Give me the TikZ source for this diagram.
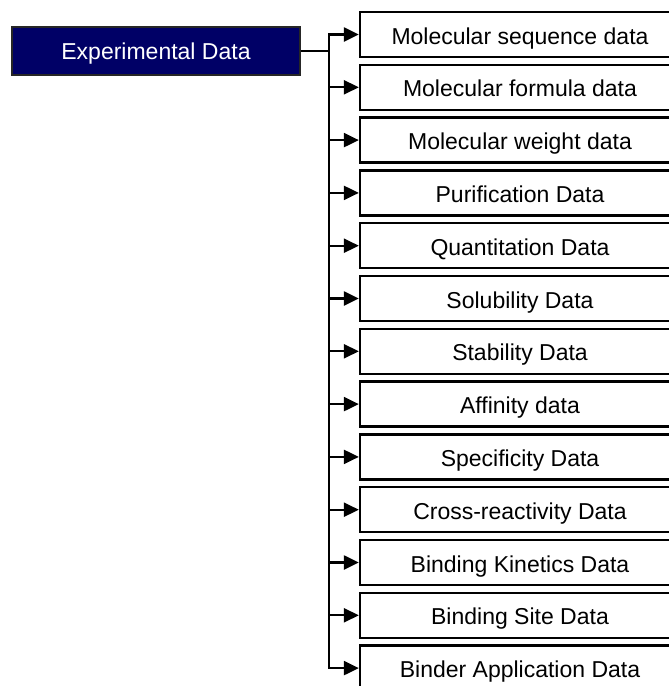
\documentclass[tikz,border=0pt]{standalone}
\usepackage{fontspec}
\setmainfont{Liberation Sans}
\usepackage{tikz}
\usetikzlibrary{positioning, arrows.meta, calc}

\definecolor{rootblue}{RGB}{0,0,102}

\begin{document}
\begin{tikzpicture}[x=1pt, y=-1pt,
        rootbox/.style={draw=black!85, line width=1.5pt, fill=rootblue, text=white,
            minimum width=288pt, minimum height=48pt, inner sep=0pt,
            text height=16.5pt, text depth=0pt, font=\fontsize{23}{27}\selectfont},
        databox/.style={draw=black, line width=2.3pt, fill=white,
            minimum width=320pt, minimum height=45pt, inner sep=0pt,
            text height=19pt, text depth=0pt, font=\fontsize{23}{27}\selectfont},
        branch/.style={line width=2.3pt, -{Triangle[length=15pt, width=14pt]}},
        trunk/.style={line width=2.5pt, line cap=rect}]
            \def\trunkx{329}
            \def\pitch{52.8}

            \useasboundingbox (0,0) rectangle (669,686);
            \clip (0,0) rectangle (669,686);

            \node[rootbox] (root) at (156,51) {Experimental Data};
            \coordinate (split) at (\trunkx,51);

            % draw data boxes and their points on the trunk
            \foreach \name [count=\i from 0] in {Molecular sequence data, Molecular formula data,
                Molecular weight data, Purification Data, Quantitation Data, Solubility Data,
                Stability Data, Affinity data, Specificity Data, Cross-reactivity Data,
                Binding Kinetics Data, Binding Site Data, Binder Application Data}
            {
                \node[databox] (d\i) at (520, 34.5 + \i * \pitch) {\name};
                \coordinate (t\i) at (\trunkx, 34.5 + \i * \pitch);
            }

            % draw trunk
            \draw[line width=2.5pt] (root.east) -- (split);
            \draw[trunk] (t0) -- (t12);

            % draw arrows
            \foreach \i in {0,...,12}
            {
                \draw[branch] (t\i) -- (d\i.west);
            }
        \end{tikzpicture}
\end{document}
